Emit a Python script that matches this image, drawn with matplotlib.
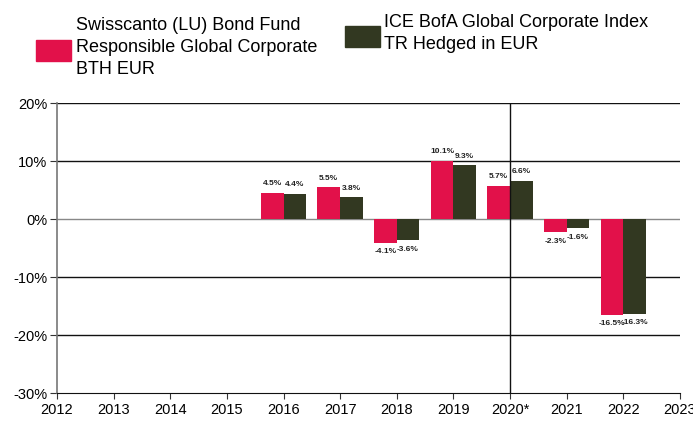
import matplotlib
matplotlib.use("Agg")
import matplotlib.pyplot as plt
from matplotlib.patches import Rectangle
import numpy as np

plt.rcParams['font.family'] = ['Liberation Sans', 'DejaVu Sans']

years = [2013, 2014, 2015, 2016, 2017, 2018, 2019, 2020, 2021, 2022]
fund = [0.0, 0.0, 0.0, 4.5, 5.5, -4.1, 10.1, 5.7, -2.3, -16.5]
index = [0.0, 0.0, 0.0, 4.4, 3.8, -3.6, 9.3, 6.6, -1.6, -16.3]
labelled = [False, False, False, True, True, True, True, True, True, True]
xticks = list(range(2012, 2024))
xticklabels = [str(y) if y != 2020 else "2020*" for y in xticks]
yticks = [-30, -20, -10, 0, 10, 20]
fund_name = "Swisscanto (LU) Bond Fund\nResponsible Global Corporate\nBTH EUR"
index_name = "ICE BofA Global Corporate Index\nTR Hedged in EUR"

RED = "#E2114A"
GREEN = "#323821"

fig = plt.figure(figsize=(6.93, 4.21), dpi=100)
ax = fig.add_axes([0.0823, 0.0665, 0.8987, 0.6885])

w = 0.4
x = np.array(years, dtype=float)
ax.bar(x - w / 2, fund, width=w, color=RED, zorder=3)
ax.bar(x + w / 2, index, width=w, color=GREEN, zorder=3)

for xi, f, i, lab in zip(x, fund, index, labelled):
    if not lab:
        continue
    for xx, v in ((xi - w / 2, f), (xi + w / 2, i)):
        off = 4 if v >= 0 else -4
        va = 'bottom' if v >= 0 else 'top'
        ax.annotate(f"{v:.1f}%", (xx, v), xytext=(0, off), textcoords='offset points',
                    ha='center', va=va, fontsize=6, fontweight='bold', color='#222222')

ax.set_xlim(2012, 2023)
ax.set_ylim(-30, 20)
ax.set_xticks(xticks)
ax.set_xticklabels(xticklabels, fontsize=10.5)
ax.set_yticks(yticks)
ax.set_yticklabels([f"{t}%" for t in yticks], fontsize=10.5)

for t in [-20, -10, 10, 20]:
    ax.axhline(t, color='#111111', lw=1.0, zorder=1)
ax.axhline(0, color='#888888', lw=1.0, zorder=2)
ax.axvline(2020, color='#111111', lw=1.0, zorder=4)

for s in ['top', 'right']:
    ax.spines[s].set_visible(False)
ax.spines['left'].set_color('#777777')
ax.spines['left'].set_linewidth(1.2)
ax.spines['bottom'].set_color('#111111')
ax.tick_params(axis='x', length=4, color='#333333', pad=3)
ax.tick_params(axis='y', length=5, color='#333333', pad=2)

# legend
W, H = 693, 421
def fx(px): return px / W
def fy(py): return 1 - py / H
fig.add_artist(Rectangle((fx(36), fy(61)), fx(71) - fx(36), fy(40) - fy(61),
                         transform=fig.transFigure, color=RED))
fig.text(fx(76), fy(17), fund_name, ha='left', va='top', fontsize=13, linespacing=1.38)
fig.add_artist(Rectangle((fx(345), fy(47)), fx(380) - fx(345), fy(26.5) - fy(47),
                         transform=fig.transFigure, color=GREEN))
fig.text(fx(384), fy(14), index_name, ha='left', va='top', fontsize=13, linespacing=1.38)

fig.savefig("out.png", dpi=100)
